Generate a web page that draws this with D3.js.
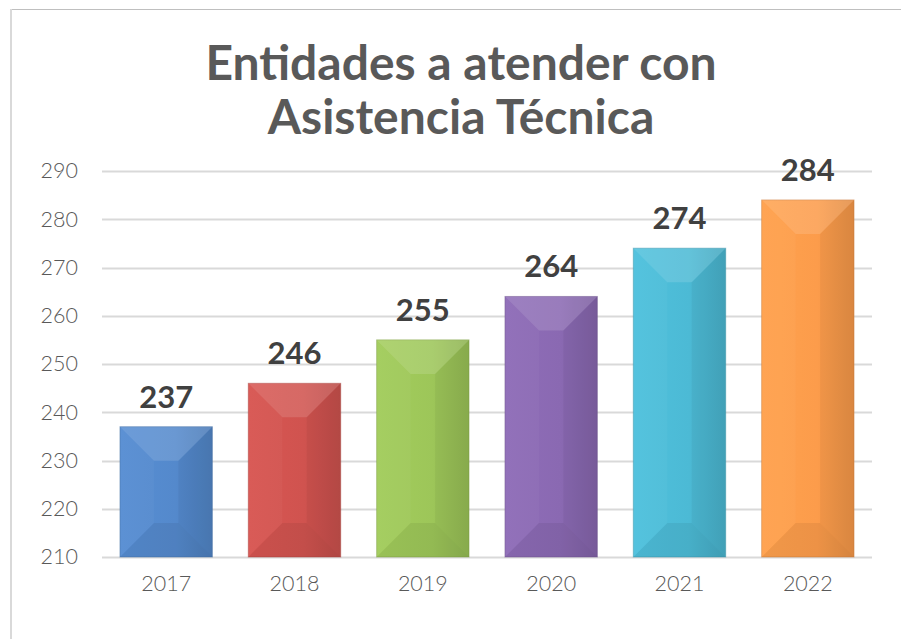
<!DOCTYPE html>
<html>
<head>
<meta charset="utf-8">
<script src="https://cdn.jsdelivr.net/npm/d3@7"></script>
<style>
  body { margin: 0; background: #fff; }
  svg { display: block; }
</style>
</head>
<body>
<div id="chart"></div>
<script>
var years = ['2017', '2018', '2019', '2020', '2021', '2022'];
var values = [237, 246, 255, 264, 274, 284];
var colors = ['#5489cc', '#d0534f', '#9dc659', '#8a69b2', '#4cbad5', '#fc9c4b'];
var yTicks = [210, 220, 230, 240, 250, 260, 270, 280, 290];
var titleLines = ['Entidades a atender con', 'Asistencia Técnica'];

var width = 901, height = 639;
var font = 'Lato, "DejaVu Sans", sans-serif';

var svg = d3.select('#chart').append('svg')
  .attr('width', width)
  .attr('height', height);

// outer frame (only top and left visible)
svg.append('line').attr('x1', 10).attr('x2', width).attr('y1', 9.5).attr('y2', 9.5)
  .attr('stroke', '#bfbfbf').attr('stroke-width', 1);
svg.append('line').attr('x1', 11).attr('x2', 11).attr('y1', 9).attr('y2', height)
  .attr('stroke', '#d9d9d9').attr('stroke-width', 2);

// title
svg.append('g').selectAll('text')
  .data(titleLines)
  .enter().append('text')
  .attr('x', 461)
  .attr('y', function (d, i) { return 80 + i * 54; })
  .attr('text-anchor', 'middle')
  .attr('font-family', font)
  .attr('font-weight', 'bold')
  .attr('font-size', 48)
  .attr('fill', '#595959')
  .text(function (d) { return d; });

var x = d3.scaleBand().domain(years).range([102, 872]).paddingInner(0.28).paddingOuter(0.14);
var y = d3.scaleLinear().domain([210, 290]).range([557, 171]);

// gridlines
svg.append('g').selectAll('line')
  .data(yTicks)
  .enter().append('line')
  .attr('x1', 102).attr('x2', 872)
  .attr('y1', function (d) { return Math.round(y(d)) + 0.5; })
  .attr('y2', function (d) { return Math.round(y(d)) + 0.5; })
  .attr('stroke', '#d9d9d9')
  .attr('stroke-width', 2);

// y axis labels
var yAxis = svg.append('g')
  .attr('transform', 'translate(78,0)')
  .call(d3.axisLeft(y).tickValues(yTicks).tickSize(0).tickPadding(0));
yAxis.select('.domain').remove();
yAxis.selectAll('text')
  .attr('font-family', font)
  .attr('font-weight', 300)
  .attr('font-size', 21.5)
  .attr('fill', '#595959');

// x axis labels
var xAxis = svg.append('g')
  .attr('transform', 'translate(0,' + 576 + ')')
  .call(d3.axisBottom(x).tickSize(0).tickPadding(0));
xAxis.select('.domain').remove();
xAxis.selectAll('text')
  .attr('font-family', font)
  .attr('font-weight', 300)
  .attr('font-size', 21.5)
  .attr('fill', '#595959');

// gradients
var defs = svg.append('defs');
colors.forEach(function (c, i) {
  var g = defs.append('linearGradient').attr('id', 'g' + i)
    .attr('x1', 0).attr('x2', 1).attr('y1', 0).attr('y2', 0);
  g.append('stop').attr('offset', 0).attr('stop-color', d3.color(c).brighter(0.1));
  g.append('stop').attr('offset', 0.6).attr('stop-color', c);
  g.append('stop').attr('offset', 1).attr('stop-color', d3.color(c).darker(0.3));
});

var data = years.map(function (d, i) { return { year: d, value: values[i], i: i }; });

var bars = svg.append('g').selectAll('.bar')
  .data(data)
  .enter().append('g')
  .attr('class', 'bar');

bars.append('rect')
  .attr('x', function (d) { return x(d.year); })
  .attr('y', function (d) { return y(d.value); })
  .attr('width', x.bandwidth())
  .attr('height', function (d) { return y(210) - y(d.value); })
  .attr('fill', function (d) { return 'url(#g' + d.i + ')'; })
  .attr('stroke', function (d) { return d3.color(colors[d.i]).darker(0.6); })
  .attr('stroke-opacity', 0.5)
  .attr('stroke-width', 1);

// bevel facets
function facets(d) {
  var x0 = x(d.year), x1 = x0 + x.bandwidth();
  var y0 = y(d.value), y1 = y(210);
  var b = Math.min(34, x.bandwidth() / 2, (y1 - y0) / 2);
  return [
    { pts: [[x0, y0], [x1, y0], [x1 - b, y0 + b], [x0 + b, y0 + b]], fill: '#fff', op: 0.13 },
    { pts: [[x0, y1], [x1, y1], [x1 - b, y1 - b], [x0 + b, y1 - b]], fill: '#000', op: 0.06 },
    { pts: [[x0, y0], [x0 + b, y0 + b], [x0 + b, y1 - b], [x0, y1]], fill: '#fff', op: 0.03 },
    { pts: [[x1, y0], [x1 - b, y0 + b], [x1 - b, y1 - b], [x1, y1]], fill: '#000', op: 0.04 }
  ];
}
bars.selectAll('polygon')
  .data(facets)
  .enter().append('polygon')
  .attr('points', function (f) { return f.pts.map(function (p) { return p.join(','); }).join(' '); })
  .attr('fill', function (f) { return f.fill; })
  .attr('fill-opacity', function (f) { return f.op; });

// value labels
bars.append('text')
  .attr('x', function (d) { return x(d.year) + x.bandwidth() / 2; })
  .attr('y', function (d) { return y(d.value) - 19; })
  .attr('text-anchor', 'middle')
  .attr('font-family', font)
  .attr('font-weight', 'bold')
  .attr('font-size', 31)
  .attr('fill', '#404040')
  .text(function (d) { return d.value; });
</script>
</body>
</html>
